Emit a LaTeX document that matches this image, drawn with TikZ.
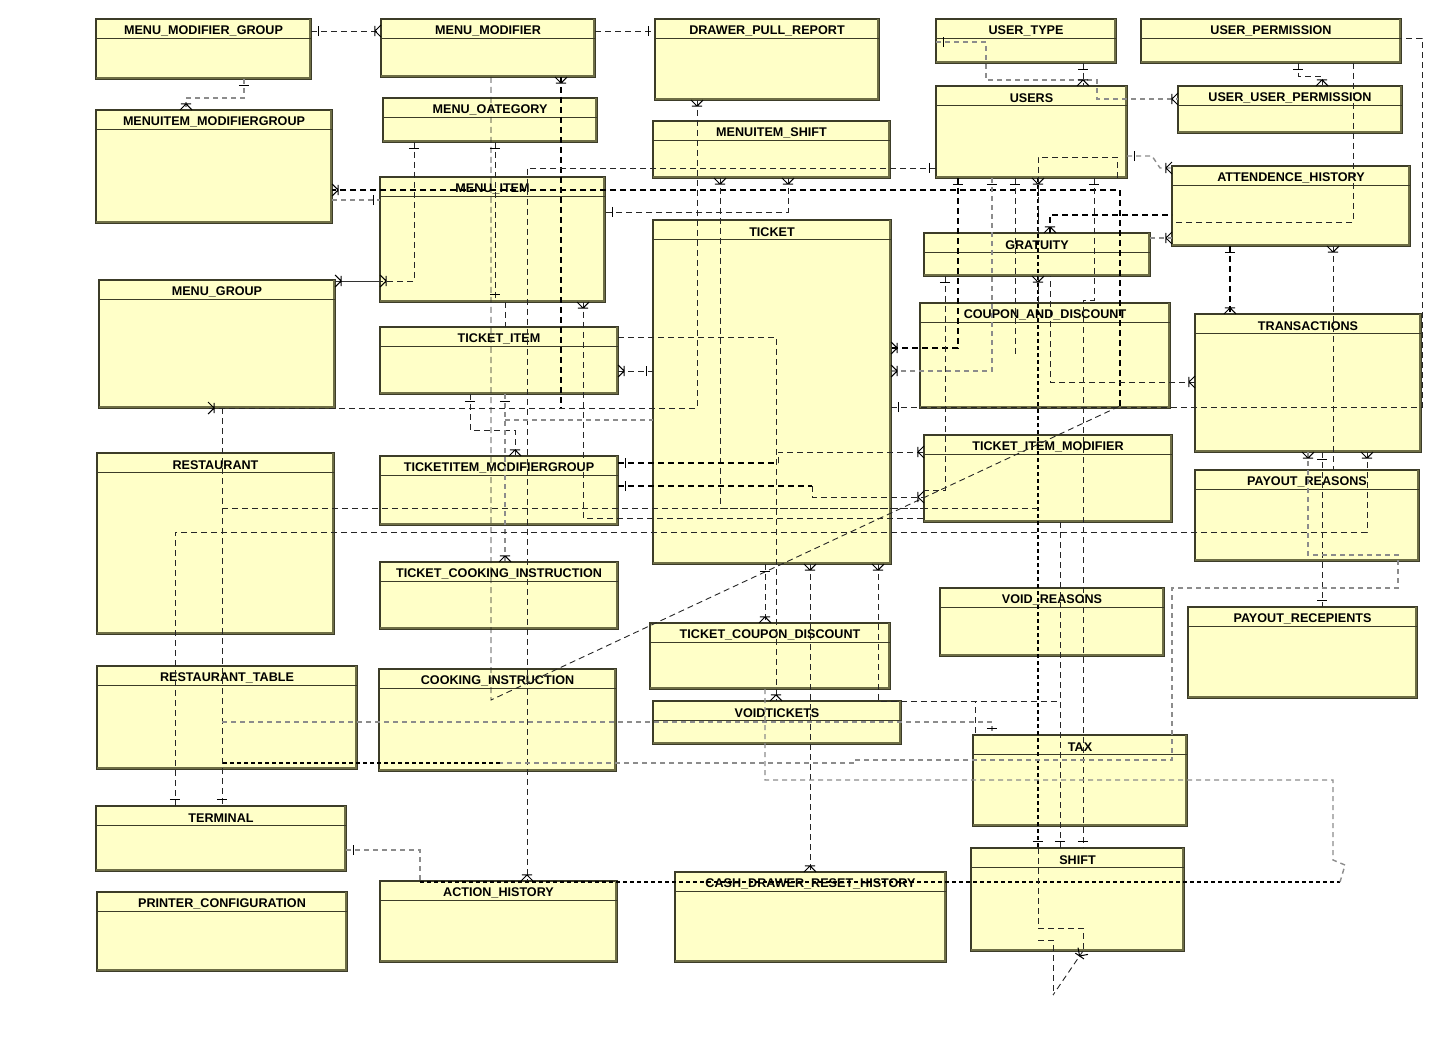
\documentclass[tikz,border=0pt]{standalone}
\usepackage{fontspec}
\setmainfont{Liberation Sans}
\usetikzlibrary{decorations.markings,calc}
\definecolor{entfill}{RGB}{255,255,200}
\definecolor{entline}{RGB}{60,60,40}
\definecolor{entshadow}{RGB}{110,110,70}
\tikzset{
  x=0.5pt,y=-0.5pt,
  entbox/.style={draw=entline, line width=0.6pt, fill=entfill, inner sep=0pt, outer sep=0pt, anchor=north west},
  enttitle/.style={font=\fontsize{6.3}{7}\selectfont\bfseries, inner sep=0pt},
  conn/.style={draw=black!85, line width=0.45pt, dash pattern=on 3pt off 2pt},
  gconn/.style={draw=black!45, line width=0.7pt, dash pattern=on 2.5pt off 2pt},
  hconn/.style={draw=black, line width=0.85pt, dash pattern=on 3pt off 2pt},
  hdot/.style={draw=black, line width=1pt, dash pattern=on 2pt off 1.5pt},
  thinsolid/.style={draw=black!80, line width=0.45pt},
  markline/.style={solid, draw=black, line width=0.5pt},
  sbar/.style={postaction={decorate, decoration={markings,
      mark=at position 3.5pt with {\draw[markline] (0,-2.6pt) -- (0,2.6pt);}}}},
  ebar/.style={postaction={decorate, decoration={markings,
      mark=at position -3.5pt with {\draw[markline] (0,-2.6pt) -- (0,2.6pt);}}}},
  scrow/.style={postaction={decorate, decoration={markings,
      mark=at position 0.02pt with {\draw[markline] (0,-3pt) -- (3pt,0) -- (0,3pt) (3pt,0) -- (3.2pt,0) (3pt,-2.6pt) -- (3pt,2.6pt);}}}},
  ecrow/.style={postaction={decorate, decoration={markings,
      mark=at position -0.02pt with {\draw[markline] (0,-3pt) -- (-3pt,0) -- (0,3pt) (-3pt,-2.6pt) -- (-3pt,2.6pt);}}}},
}
\newcommand\ent[6]{%
  \pgfmathsetmacro\entw{(#4-#2)*0.5}%
  \pgfmathsetmacro\enth{(#5-#3)*0.5}%
  \node[entbox, minimum width=\entw pt, minimum height=\enth pt] (#1) at (#2,#3) {};
  \draw[entshadow, line width=1pt] ([yshift=0.3pt]#1.south west) -- ([xshift=-0.3pt,yshift=0.3pt]#1.south east) -- ([xshift=-0.3pt]#1.north east);
  \draw[entline, line width=0.6pt] ([yshift=-9.7pt]#1.north west) -- ([yshift=-9.7pt]#1.north east);
  \node[enttitle] at ([yshift=-5.9pt]#1.north) {#6};
}
\begin{document}
\begin{tikzpicture}
\path[fill=white] (0,0) rectangle (1449,1037);
\useasboundingbox (0,0) rectangle (1449,1037);

% ---------------- entities ----------------
\ent{mmg}{96}{19}{311}{79}{MENU\_MODIFIER\_GROUP}
\ent{mm}{381}{19}{595}{77}{MENU\_MODIFIER}
\ent{dpr}{655}{19}{879}{100}{DRAWER\_PULL\_REPORT}
\ent{utype}{936}{19}{1116}{63}{USER\_TYPE}
\ent{uperm}{1141}{19}{1401}{63}{USER\_PERMISSION}
\ent{mimg}{96}{110}{332}{223}{MENUITEM\_MODIFIERGROUP}
\ent{mcat}{383}{98}{597}{142}{MENU\_OATEGORY}
\ent{mishift}{653}{121}{890}{178}{MENUITEM\_SHIFT}
\ent{users}{936}{86}{1127}{178}{USERS}
\ent{uup}{1178}{86}{1402}{133}{USER\_USER\_PERMISSION}
\ent{att}{1172}{166}{1410}{246}{ATTENDENCE\_HISTORY}
\ent{mitem}{380}{177}{605}{302}{MENU\_ITEM}
\ent{ticket}{653}{220}{891}{564}{TICKET}
\ent{grat}{924}{233}{1150}{276}{GRATUITY}
\ent{mgroup}{99}{280}{335}{408}{MENU\_GROUP}
\ent{cad}{920}{303}{1170}{408}{COUPON\_AND\_DISCOUNT}
\ent{trans}{1195}{314}{1421}{452}{TRANSACTIONS}
\ent{titem}{380}{327}{618}{394}{TICKET\_ITEM}
\ent{rest}{97}{453}{334}{634}{RESTAURANT}
\ent{timg}{380}{456}{618}{525}{TICKETITEM\_MODIFIERGROUP}
\ent{tim}{924}{435}{1172}{522}{TICKET\_ITEM\_MODIFIER}
\ent{pres}{1195}{470}{1419}{561}{PAYOUT\_REASONS}
\ent{tci}{380}{562}{618}{629}{TICKET\_COOKING\_INSTRUCTION}
\ent{vres}{940}{588}{1164}{656}{VOID\_REASONS}
\ent{prec}{1188}{607}{1417}{698}{PAYOUT\_RECEPIENTS}
\ent{tcd}{650}{623}{890}{689}{TICKET\_COUPON\_DISCOUNT}
\ent{rtable}{97}{666}{357}{769}{RESTAURANT\_TABLE}
\ent{cins}{379}{669}{616}{771}{COOKING\_INSTRUCTION}
\ent{vtick}{653}{701}{901}{744}{VOIDTICKETS}
\ent{tax}{973}{735}{1187}{826}{TAX}
\ent{term}{96}{806}{346}{871}{TERMINAL}
\ent{pcfg}{97}{892}{347}{971}{PRINTER\_CONFIGURATION}
\ent{ahist}{380}{881}{617}{962}{ACTION\_HISTORY}
\ent{cdrh}{675}{872}{946}{962}{CASH\_DRAWER\_RESET\_HISTORY}
\ent{shift}{971}{848}{1184}{951}{SHIFT}

\coordinate (j1) at (222,508);
\coordinate (j1e) at (1038,508);
\coordinate (j2) at (222,722);

% ---------------- connectors ----------------
% top row
\draw[conn, sbar, ecrow] (mmg.east |- 0,31) -- (mm.west |- 0,31);
\draw[conn, ebar] (mm.east |- 0,31) -- (dpr.west |- 0,31);
\draw[gconn, sbar, ecrow] (mmg.south -| 244,0) -- (244,98) -| (mimg.north -| 186,0);
% menu modifier long line and diagonal
\draw[conn] (mm.south -| 491,0) -- (491,700) -- (1120,406) coordinate (dg);
\draw[hconn, ecrow] (dg) |- (mimg.east |- 0,190);
\draw[gconn, ebar] (mimg.east |- 0,200) -- (mitem.west |- 0,200);
\draw[hconn, scrow] (mm.south -| 561,0) -- (561,0 |- mgroup.south);
\draw[conn, scrow, ecrow] (dpr.south -| 697,0) |- (mgroup.south -| 208,0);
% menu category / group / item
\draw[conn, sbar, ecrow] (mcat.south -| 414,0) |- (mitem.west |- 0,281);
\draw[thinsolid, scrow] (mgroup.east |- 0,281) -- (mitem.west |- 0,281);
\draw[conn, sbar, ebar] (mcat.south -| 495,0) -- (495,0 |- mitem.south);
\draw[conn] (mitem.south -| 505,0) -- (505,0 |- titem.north);
% users -> action history
\draw[conn, sbar, ecrow] (users.west |- 0,168) -| (ahist.north -| 527,0);
% menuitem shift
\draw[conn, scrow, ebar] (mishift.south -| 788,0) |- (mitem.east |- 0,212);
\draw[conn, scrow] (mishift.south -| 720,0) |- (tim.west |- 0,508);
% ticket item
\draw[conn, scrow, ebar] (titem.east |- 0,371) -- (ticket.west |- 0,371);
\draw[conn, ecrow] (titem.east |- 0,337) -| (vtick.north -| 776,0);
\draw[conn, sbar, ecrow] (titem.south -| 470,0) -- (470,430) -| (timg.north -| 515,0);
\draw[gconn, sbar, ecrow] (titem.south -| 505,0) -- (tci.north -| 505,0);
\draw[gconn] (505,420) -- (ticket.west |- 0,420);
\draw[conn, scrow] (mitem.south -| 583,0) |- (tim.west |- 0,518);
% ticketitem modifier group
\draw[hconn, sbar] (timg.east |- 0,463) -- (778,463);
\draw[conn, ecrow] (778,463) |- (tim.west |- 0,452);
\draw[hconn, sbar] (timg.east |- 0,486) -- (812,486);
\draw[conn, ecrow] (812,486) |- (tim.west |- 0,497);
% ticket bottom
\draw[conn, sbar, ecrow] (ticket.south -| 765,0) -- (tcd.north -| 765,0);
\draw[conn, scrow, ecrow] (ticket.south -| 810,0) -- (cdrh.north -| 810,0);
\draw[conn, scrow] (ticket.south -| 878,0) -- (878,701) -| (tax.north -| 975,0);
% users bottom
\draw[hconn, sbar, ecrow] (users.south -| 958,0) |- (ticket.east |- 0,348);
\draw[gconn, sbar, ecrow] (users.south -| 992,0) |- (ticket.east |- 0,371);
\draw[hdot, scrow, ebar] (users.south -| 1038,0) -- (shift.north -| 1038,0);
\draw[conn, sbar] (users.south -| 1015,0) -- (1015,0 |- cad.center);
\draw[conn, sbar, ebar] (users.south -| 1094,0) -- (1094,300) -| (shift.north -| 1083,0);
\draw[conn] (users.south -| 1117,0) -- (1117,157) -| (grat.north -| 1038,0);
% users / user type / permissions
\draw[gconn, sbar, ecrow] (users.east |- 0,156) -- (1152,156) -- (1160,168) -- (att.west |- 0,168);
\draw[gconn, sbar, ecrow] (utype.west |- 0,42) -| (986,80) -| (1097,99) -- (uup.west |- 0,99);
\draw[conn, sbar, ecrow] (utype.south -| 1083,0) -- (users.north -| 1083,0);
\draw[conn, sbar, ecrow] (uperm.south -| 1298,0) -- (1298,76) -| (uup.north -| 1322,0);
\draw[conn, sbar] (ticket.east |- 0,407) -| (1422,38) -- (uperm.east |- 0,38);
\draw[conn] (uperm.south -| 1353,0) |- (att.west |- 0,222);
% attendance / gratuity / transactions
\draw[hconn, sbar, ecrow] (att.south -| 1230,0) -- (trans.north -| 1230,0);
\draw[conn, scrow] (att.south -| 1333,0) -- (1333,0 |- pres.north);
\draw[conn, scrow] (trans.west |- 0,382) -| (grat.south -| 1050,0);
\draw[hconn, scrow] (grat.north -| 1050,0) |- (att.west |- 0,215);
\draw[gconn, ecrow] (grat.east |- 0,238) -- (att.west |- 0,238);
\draw[conn, sbar] (grat.south -| 945,0) |- (tim.west |- 0,490);
\draw[conn, scrow] (grat.south -| 1038,0) -- (1038,0 |- cad.north);
% transactions bottom
\draw[conn, scrow, ebar] (trans.south -| 1367,0) |- (175,532) -- (term.north -| 175,0);
\draw[conn, sbar, ebar] (trans.south -| 1322,0) -- (prec.north -| 1322,0);
\draw[gconn, scrow] (trans.south -| 1308,0) -- (1308,555) -| (1398,588) -| (1172,760) -- (855,760) -- (855,763) -- (500,763);
\draw[hdot] (500,763) -- (rtable.east |- 0,763) -- (222,763);
% restaurant / terminal
\draw[conn, ebar] (mgroup.south -| 222,0) -- (term.north -| 222,0);
\draw[conn] (j1) -- (j1e);
\draw[gconn, ebar] (j2) -| (tax.north -| 992,0);
\draw[gconn, sbar] (term.east |- 0,850) -| (420,882);
\draw[hdot] (420,882) -- (1340,882) coordinate (rend);
\draw[gconn] (tcd.south -| 765,0) -- (765,780) -- (1333,780) -- (1333,860) -- (1345,865) -- (rend);
\draw[conn] (vtick.east |- 0,701) -| (tax.north -| 1060,0);
\draw[conn, ebar] (tim.south -| 1060,0) -- (shift.north -| 1060,0);
% shift self relation
\draw[conn] (shift.north -| 1038,0) -- (1038,928) -- (1083,928) -- (shift.south -| 1083,0);
\draw[conn, scrow] (shift.south -| 1083,0) -- (1053,995);
\draw[conn] (1038,940) -- (1053,940) -- (1053,995);
\end{tikzpicture}
\end{document}
